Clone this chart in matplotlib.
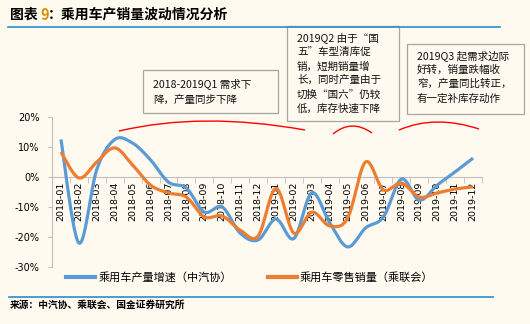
import numpy as np
import matplotlib
matplotlib.use('Agg')
import matplotlib.pyplot as plt
from matplotlib.patches import Rectangle, PathPatch
from matplotlib.path import Path
from matplotlib.lines import Line2D

plt.rcParams['font.family'] = ['Noto Sans CJK SC', 'DejaVu Sans']

months = ['2018-01', '2018-02', '2018-03', '2018-04', '2018-05', '2018-06',
          '2018-07', '2018-08', '2018-09', '2018-10', '2018-11', '2018-12',
          '2019-01', '2019-02', '2019-03', '2019-04', '2019-05', '2019-06',
          '2019-07', '2019-08', '2019-09', '2019-10', '2019-11', '2019-12']

# 乘用车产量增速（中汽协），%
production = [12.5, -22.0, 2.5, 12.5, 11.3, 5.7, -1.7, -3.7, -11.7, -10.0, -18.7, -21.0,
              -14.0, -20.5, -5.3, -15.3, -23.3, -17.0, -13.3, -0.7, -7.7, -2.7, 1.7, 6.3]
# 乘用车零售销量（乘联会），%
retail = [8.3, -0.3, 5.0, 9.7, 4.0, -2.7, -5.3, -6.7, -13.3, -13.0, -17.7, -19.7,
          -3.8, -18.7, -11.7, -16.3, -13.7, 5.0, -4.3, -2.0, -6.7, -5.3, -4.0, -3.3]

series_names = ['乘用车产量增速（中汽协）', '乘用车零售销量（乘联会）']
yticks = [-30, -20, -10, 0, 10, 20]

notes = [
    ['2018-2019Q1 需求下', '降，产量同步下降'],
    ['2019Q2 由于“国', '五”车型清库促', '销，短期销量增', '长，同时产量由于', '切换“国六”仍较', '低，库存快速下降'],
    ['2019Q3 起需求边际', '好转，销量跌幅收', '窄，产量同比转正，', '有一定补库存动作'],
]

BG = '#FFFAF0'
BLUE = '#5B9BD5'
ORANGE = '#ED7D31'
W, H = 530, 324


def smooth(y, n=24):
    # bezier smoothing through every point, like a spreadsheet "smoothed line"
    y = np.asarray(y, float)
    x = np.arange(len(y), dtype=float)
    px = np.concatenate([[x[0]], x, [x[-1]]])
    py = np.concatenate([[y[0]], y, [y[-1]]])
    xs, ys = [], []
    t = np.linspace(0, 1, n, endpoint=False)
    for i in range(len(y) - 1):
        p0 = np.array([px[i + 1], py[i + 1]])
        p3 = np.array([px[i + 2], py[i + 2]])
        p1 = p0 + (p3 - np.array([px[i], py[i]])) / 6
        p2 = p3 - (np.array([px[i + 3], py[i + 3]]) - p0) / 6
        b = ((1 - t) ** 3)[:, None] * p0 + (3 * (1 - t) ** 2 * t)[:, None] * p1 \
            + (3 * (1 - t) * t ** 2)[:, None] * p2 + (t ** 3)[:, None] * p3
        xs.extend(b[:, 0]); ys.extend(b[:, 1])
    xs.append(x[-1]); ys.append(y[-1])
    return np.array(xs), np.array(ys)


def fx(px):
    return px / W


def fy(py):
    return 1 - py / H


fig = plt.figure(figsize=(W / 100, H / 100), dpi=100, facecolor=BG)
ax = fig.add_axes([fx(52), fy(267), fx(482) - fx(52), fy(117) - fy(267)])
ax.set_facecolor(BG)

for vals, col in [(production, BLUE), (retail, ORANGE)]:
    sx, sy = smooth(vals)
    ax.plot(sx, sy, color=col, lw=2.3, solid_capstyle='butt', zorder=3)

# axis through 0%, set before the tick labels since it resets ticks
for s in ['top', 'right']:
    ax.spines[s].set_visible(False)
ax.spines['bottom'].set_position(('data', 0))
ax.spines['bottom'].set_color('#BFBFBF')
ax.spines['left'].set_color('#BFBFBF')

ax.set_xlim(-0.5, len(months) - 0.5)
ax.set_ylim(-30, 20)
ax.set_yticks(yticks)
ax.set_yticklabels([f'{v}%' for v in yticks], fontsize=7, family='DejaVu Sans')
ax.set_xticks(range(len(months)))
ax.set_xticklabels(months, fontsize=6.8, family='DejaVu Sans')
ax.set_xticks(np.arange(-0.5, len(months), 1), minor=True)
ax.tick_params(axis='x', which='major', length=0, pad=3, labelrotation=90)
ax.tick_params(axis='x', which='minor', length=4, color='#BFBFBF', direction='out')
ax.tick_params(axis='y', length=3, color='#BFBFBF', pad=6)

handles = [Line2D([], [], color=BLUE, lw=3), Line2D([], [], color=ORANGE, lw=3)]
fig.legend(handles, series_names, loc='center', bbox_to_anchor=(fx(250), fy(277)),
           ncol=2, frameon=False, fontsize=8, handlelength=2.6, columnspacing=3.2,
           handletextpad=0.3)

# title and frame lines
fig.text(fx(10), fy(15), '图表', fontsize=10, fontweight='bold', va='center')
fig.text(fx(40), fy(15), '9', fontsize=10.5, fontweight='bold', va='center', color='#D98E04')
fig.text(fx(48), fy(15), '：乘用车产销量波动情况分析', fontsize=10, fontweight='bold', va='center')
fig.add_artist(Line2D([fx(8), fx(500)], [fy(27), fy(27)], color='#2E8BCB', lw=1.2))
fig.add_artist(Line2D([fx(9), fx(493)], [fy(297), fy(297)], color='#2E8BCB', lw=1.2))
fig.text(fx(10), fy(305), '来源：中汽协、乘联会、国金证券研究所', fontsize=7, fontweight='bold', va='center')

# annotation boxes
boxes = [(143, 70, 278, 113, 153, 84, 16), (287, 26, 399, 121, 297, 38, 14.1),
         (407, 44, 524, 114, 417, 56, 14.1)]
for (x0, y0, x1, y1, tx, ty, dy), lines in zip(boxes, notes):
    fig.add_artist(Rectangle((fx(x0), fy(y1)), fx(x1) - fx(x0), fy(y0) - fy(y1),
                             transform=fig.transFigure, facecolor=BG,
                             edgecolor='#A6A6A6', lw=0.9))
    for k, line in enumerate(lines):
        fig.text(fx(tx), fy(ty + k * dy), line, fontsize=7.6, va='center', color='#111111')

# red arcs above the curves
arcs = [((119, 131), (202, 111.5), (305, 130)),
        ((333, 134), (351.5, 118.5), (372, 133)),
        ((399, 130), (435, 114.5), (479, 129))]
for p0, c, p2 in arcs:
    verts = [(fx(p0[0]), fy(p0[1])), (fx(c[0]), fy(c[1])), (fx(p2[0]), fy(p2[1]))]
    path = Path(verts, [Path.MOVETO, Path.CURVE3, Path.CURVE3])
    fig.add_artist(PathPatch(path, transform=fig.transFigure, facecolor='none',
                             edgecolor='#FF0000', lw=1.0))

fig.savefig('out.png', dpi=100, facecolor=BG)
